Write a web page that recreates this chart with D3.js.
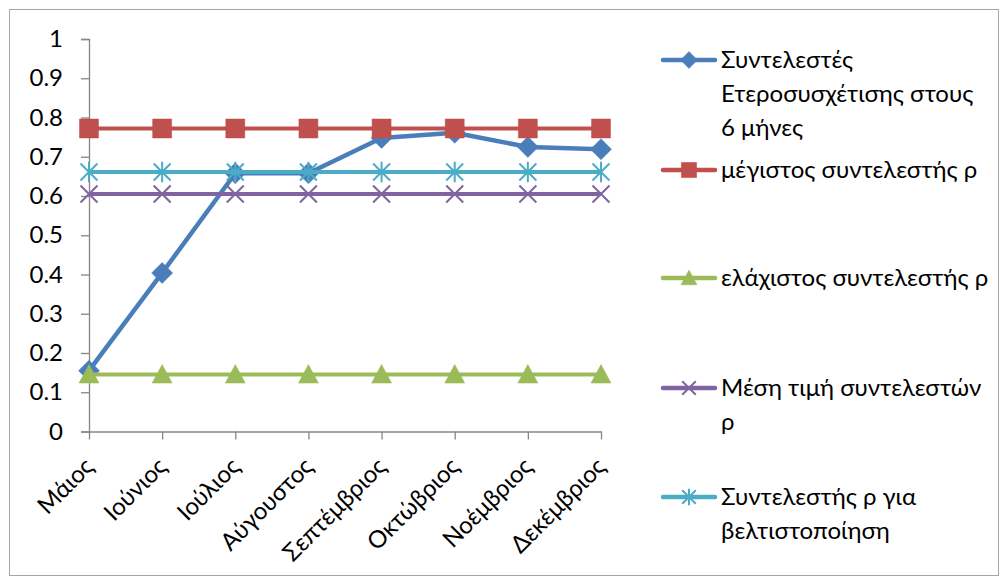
<!DOCTYPE html>
<html><head><meta charset="utf-8">
<script src="https://cdn.jsdelivr.net/npm/d3@7"></script>
<style>body{margin:0;background:#fff}svg{display:block}text{font-family:Lato,"Open Sans",sans-serif;fill:#000}</style>
</head><body><svg id="c" width="1005" height="581"></svg>
<script>
const categories = ["Μάιος","Ιούνιος","Ιούλιος","Αύγουστος","Σεπτέμβριος","Οκτώβριος","Νοέμβριος","Δεκέμβριος"];
const seriesNames = [
  ["Συντελεστές","Ετεροσυσχέτισης στους","6 μήνες"],
  ["μέγιστος συντελεστής ρ"],
  ["ελάχιστος συντελεστής ρ"],
  ["Μέση τιμή συντελεστών","ρ"],
  ["Συντελεστής ρ για","βελτιστοποίηση"]
];
const heteroCorr = [0.155,0.404,0.658,0.658,0.748,0.761,0.725,0.719];
const maxRho = [0.772,0.772,0.772,0.772,0.772,0.772,0.772,0.772];
const minRho = [0.145,0.145,0.145,0.145,0.145,0.145,0.145,0.145];
const meanRho = [0.605,0.605,0.605,0.605,0.605,0.605,0.605,0.605];
const optRho = [0.661,0.661,0.661,0.661,0.661,0.661,0.661,0.661];
const yTicks = [0,0.1,0.2,0.3,0.4,0.5,0.6,0.7,0.8,0.9,1];

const series = [
  {name:seriesNames[0], values:heteroCorr, color:"#4A7EBB", marker:"diamond", lw:4.5},
  {name:seriesNames[1], values:maxRho, color:"#C0504D", marker:"square", lw:4},
  {name:seriesNames[2], values:minRho, color:"#9BBB59", marker:"triangle", lw:4},
  {name:seriesNames[3], values:meanRho, color:"#8064A2", marker:"x", lw:4},
  {name:seriesNames[4], values:optRho, color:"#4BACC6", marker:"star", lw:4}
];

const svg = d3.select("#c");
svg.append("rect").attr("x",9.5).attr("y",9.5).attr("width",989).attr("height",566)
  .attr("fill","#fff").attr("stroke","#a6a6a6").attr("stroke-width",1);

const x = d3.scalePoint().domain(categories).range([89,601]).padding(0);
const y = d3.scaleLinear().domain([0,1]).range([431.5,39]);
const axisColor = "#868686";
const fontFam = "Lato,'Open Sans',sans-serif";

// Y axis
const ya = svg.append("g").attr("transform","translate(89,0)")
  .call(d3.axisLeft(y).tickValues(yTicks).tickSize(8).tickPadding(18).tickFormat(d3.format("")));
ya.select(".domain").attr("stroke",axisColor).attr("stroke-width",1.3);
ya.selectAll(".tick line").attr("stroke",axisColor).attr("stroke-width",1.3);
ya.selectAll(".tick text").attr("font-size","24px").attr("font-family",fontFam).attr("fill","#000");

// X axis
const xa = svg.append("g").attr("transform","translate(0,431.5)")
  .call(d3.axisBottom(x).tickSize(8).tickSizeOuter(0));
xa.select(".domain").attr("stroke",axisColor).attr("stroke-width",1.3);
xa.selectAll(".tick line").attr("stroke",axisColor).attr("stroke-width",1.3);
xa.selectAll(".tick text").remove();
svg.append("g").selectAll("text").data(categories).join("text")
  .attr("transform",d=>`translate(${x(d)+6},${468}) rotate(-45)`)
  .attr("text-anchor","end").attr("font-size","24px").text(d=>d);

function markerPath(type, size){
  const s = size/2;
  if(type==="diamond") return `M0,${-s}L${s},0L0,${s}L${-s},0Z`;
  if(type==="square") return `M${-s},${-s}H${s}V${s}H${-s}Z`;
  if(type==="triangle") return `M0,${-s}L${s},${s*0.85}L${-s},${s*0.85}Z`;
  if(type==="x") return `M${-s},${-s}L${s},${s}M${-s},${s}L${s},${-s}`;
  if(type==="star") return `M${-s},${-s}L${s},${s}M${-s},${s}L${s},${-s}M0,${-s*1.2}V${s*1.2}`;
}
function drawMarker(g, type, color, cx, cy, size){
  const filled = (type==="diamond"||type==="square"||type==="triangle");
  g.append("path").attr("d",markerPath(type,size)).attr("transform",`translate(${cx},${cy})`)
    .attr("fill",filled?color:"none").attr("stroke",color).attr("stroke-width",filled?0.5:2);
}
const line = d3.line().x((d,i)=>x(categories[i])).y(d=>y(d));
const sizes = {diamond:21, square:19, triangle:20, x:17, star:17};

series.forEach(s=>{
  const g = svg.append("g");
  g.append("path").datum(s.values).attr("d",line).attr("fill","none")
    .attr("stroke",s.color).attr("stroke-width",s.lw).attr("stroke-linejoin","round");
  s.values.forEach((v,i)=>drawMarker(g,s.marker,s.color,x(categories[i]),y(v),sizes[s.marker]));
});

// Legend
const legendY = [60,170,278,388,497];
const lg = svg.append("g");
series.forEach((s,i)=>{
  const cy = legendY[i];
  lg.append("line").attr("x1",663).attr("x2",715).attr("y1",cy).attr("y2",cy)
    .attr("stroke",s.color).attr("stroke-width",4.5).attr("stroke-linecap","round");
  drawMarker(lg,s.marker,s.color,689,cy,sizes[s.marker]*0.8);
  s.name.forEach((t,j)=>{
    lg.append("text").attr("x",721).attr("y",cy+j*34).attr("dy","0.35em")
      .attr("font-size","24px").text(t);
  });
});
</script></body></html>
